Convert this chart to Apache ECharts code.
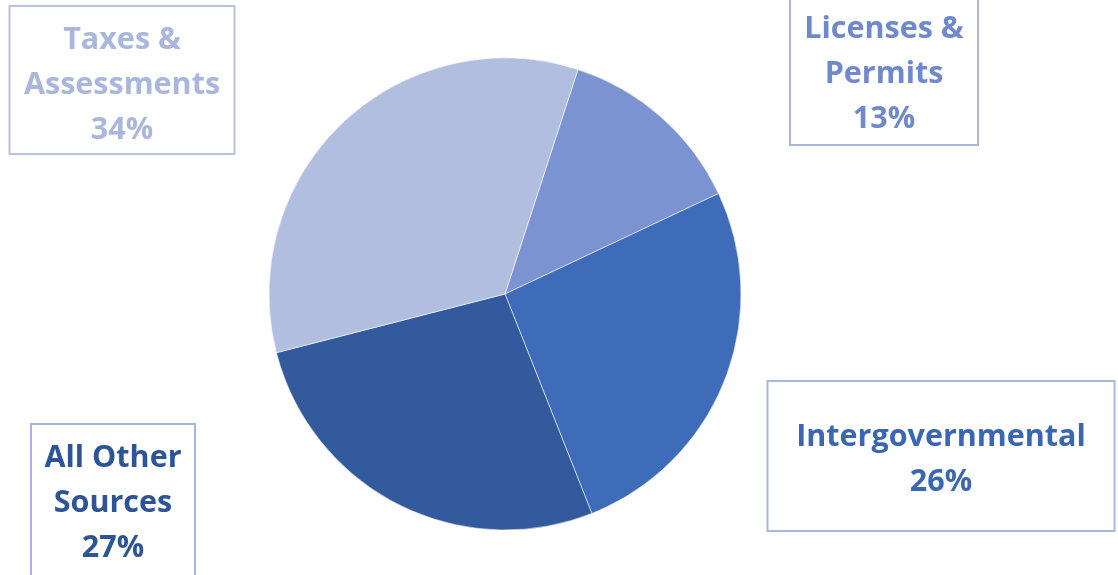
<!DOCTYPE html>
<html>
<head>
<meta charset="utf-8">
<style>
  html, body { margin: 0; padding: 0; background: #ffffff; }
  #chart { width: 1118px; height: 575px; }
</style>
<script src="https://cdn.jsdelivr.net/npm/echarts@6/dist/echarts.min.js"></script>
</head>
<body>
<div id="chart"></div>
<script>
// Revenue sources, share of total (percent), listed clockwise from the top
const categories = ['Licenses & Permits', 'Intergovernmental', 'All Other Sources', 'Taxes & Assessments'];
const shares = [13, 26, 27, 34];
// Text shown in each callout (line breaks where the boxes wrap)
const labelNames = ['Licenses &\nPermits', 'Intergovernmental', 'All Other\nSources', 'Taxes &\nAssessments'];

// Slice fill and callout text colours
const sliceColors = ['#7b93d1', '#3f6cb9', '#325a9c', '#b2bee0'];
const textColors = ['#6f89cc', '#3a66b3', '#2c5496', '#a9b6de'];
const boxColors = ['#a7b6df', '#a7b6df', '#a7b6df', '#b8c3e4'];

// Callout boxes: centre x, centre y, width, height, top inset of the text (pixels)
const calloutBoxes = [
  [884, 71, 190, 150, 9],
  [941, 456, 349, 152, 33],
  [113, 501, 166, 156, 10.5],
  [122, 80, 227, 150, 11]
];

const chart = echarts.init(document.getElementById('chart'), null, { renderer: 'canvas' });

const seriesData = categories.map((name, i) => ({
  name: name,
  value: shares[i],
  itemStyle: { color: sliceColors[i] },
  label: {
    // a blank spacer line on top sets where the text starts inside its box
    formatter: '{s| }\n' + labelNames[i] + '\n{d}%',
    color: textColors[i],
    borderColor: boxColors[i],
    width: calloutBoxes[i][2] - 4,
    height: calloutBoxes[i][3] - 4,
    rich: {
      s: { fontSize: 1, lineHeight: calloutBoxes[i][4] }
    }
  }
}));

chart.setOption({
  animation: false,
  series: [{
    type: 'pie',
    center: [505, 294],
    radius: 236,
    startAngle: 72,
    clockwise: true,
    data: seriesData,
    itemStyle: {
      borderColor: 'rgba(255,255,255,0.55)',
      borderWidth: 1
    },
    label: {
      show: true,
      position: 'outside',
      fontFamily: '"Open Sans"',
      fontWeight: 'bold',
      fontSize: 30.5,
      lineHeight: 45,
      align: 'center',
      verticalAlign: 'middle',
      borderWidth: 2,
      padding: 0,
      backgroundColor: '#ffffff'
    },
    labelLine: { show: false },
    labelLayout: function (params) {
      const b = calloutBoxes[params.dataIndex];
      return { x: b[0], y: b[1], align: 'center', verticalAlign: 'middle', hideOverlap: false };
    },
    emphasis: { disabled: true }
  }]
});
</script>
</body>
</html>
